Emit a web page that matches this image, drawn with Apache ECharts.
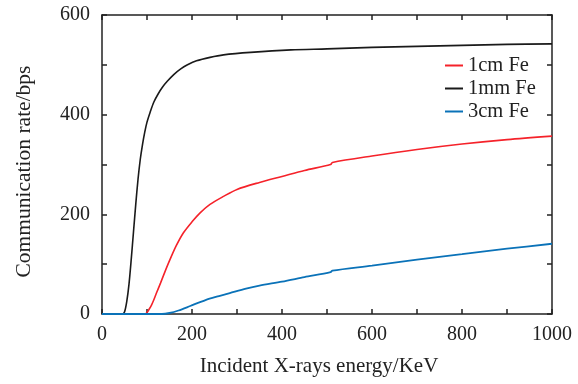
<!DOCTYPE html>
<html>
<head>
<meta charset="utf-8">
<script src="https://cdn.jsdelivr.net/npm/echarts@6/dist/echarts.min.js"></script>
<style>
  html, body { margin: 0; padding: 0; background: #fff; }
  #chart { width: 578px; height: 384px; }
</style>
</head>
<body>
<div id="chart"></div>
<script>
// values
const feThinX = [0, 45, 50, 55, 60, 65, 70, 75, 80, 85, 90, 95, 100, 107, 115, 125, 135, 145, 160, 175, 190, 210, 240, 270, 330, 420, 500, 600, 700, 800, 900, 1000]
const feThinY = [0, 0, 4, 25, 60, 110, 165, 220, 270, 310, 340, 365, 385, 405, 425, 442, 456, 467, 481, 492, 500, 508, 515, 520, 525, 530, 532, 535, 537, 539, 541, 542]

const fe1cmX = [0, 95, 100, 105, 110, 115, 121, 130, 140, 151, 165, 181, 200, 218, 240, 270, 300, 350, 400, 450, 508, 512, 600, 700, 800, 900, 1000]
const fe1cmY = [0, 0, 3, 10, 18, 28, 42, 62, 85, 109, 137, 163, 185, 203, 220, 236, 250, 264, 276, 288, 300, 304, 317, 330, 341, 350, 357]

const fe3cmX = [0, 133, 150, 170, 196, 230, 260, 284, 320, 350, 400, 450, 508, 512, 600, 700, 800, 900, 1000]
const fe3cmY = [0, 0, 2, 7, 16, 28, 36, 42, 51, 57, 65, 74, 84, 87, 97, 109, 120, 131, 141]

const seriesNames = ['1cm Fe', '1mm Fe', '3cm Fe']
const xLabels = [0, 200, 400, 600, 800, 1000]
const yLabels = [0, 200, 400, 600]

const pairs = (xs, ys) => xs.map((x, i) => [x, ys[i]])

const font = '"Liberation Serif", "DejaVu Serif", serif'
const ink = '#222'

var myChart = echarts.init(document.getElementById('chart'))

const line = { show: true, onZero: false, lineStyle: { color: ink, width: 1.5 } }
const tick = { show: true, inside: true, length: 5, lineStyle: { color: ink, width: 1.5 } }

const option = {
  animation: false,
  textStyle: { fontFamily: font },
  grid: {
    left: 102,
    right: 26,
    top: 15,
    bottom: 70,
  },
  legend: {
    data: seriesNames,
    orient: 'vertical',
    left: 440,
    top: 50,
    itemWidth: 18,
    itemHeight: 2,
    itemGap: 2,
    icon: 'rect',
    textStyle: { fontFamily: font, fontSize: 20.5, color: ink },
  },
  xAxis: [
    {
      type: 'value',
      min: 0,
      max: 1000,
      interval: 100,
      name: 'Incident X-rays energy/KeV',
      nameLocation: 'middle',
      nameGap: 42,
      nameTextStyle: { fontFamily: font, fontSize: 21, color: ink, padding: [0, 16, 0, 0] },
      axisLine: line,
      axisTick: tick,
      axisLabel: {
        fontFamily: font,
        fontSize: 20,
        color: ink,
        margin: 11,
        formatter: (v) => (xLabels.includes(v) ? String(v) : ''),
      },
      splitLine: { show: false },
    },
    {
      type: 'value',
      min: 0,
      max: 1000,
      interval: 100,
      position: 'top',
      axisLine: line,
      axisTick: tick,
      axisLabel: { show: false },
      splitLine: { show: false },
    },
  ],
  yAxis: [
    {
      type: 'value',
      min: 0,
      max: 600,
      interval: 100,
      name: 'Communication rate/bps',
      nameLocation: 'middle',
      nameGap: 67,
      nameTextStyle: { fontFamily: font, fontSize: 21.5, color: ink, padding: [0, 14, 0, 0] },
      axisLine: line,
      axisTick: tick,
      axisLabel: {
        fontFamily: font,
        fontSize: 20,
        color: ink,
        margin: 12,
        formatter: (v) => (yLabels.includes(v) ? String(v) : ''),
      },
      splitLine: { show: false },
    },
    {
      type: 'value',
      min: 0,
      max: 600,
      interval: 100,
      position: 'right',
      axisLine: line,
      axisTick: tick,
      axisLabel: { show: false },
      splitLine: { show: false },
    },
  ],
  series: [
    {
      name: '1cm Fe',
      type: 'line',
      data: pairs(fe1cmX, fe1cmY),
      smooth: 0.3,
      showSymbol: false,
      lineStyle: { color: '#f5222a', width: 1.6 },
      itemStyle: { color: '#f5222a' },
    },
    {
      name: '1mm Fe',
      type: 'line',
      data: pairs(feThinX, feThinY),
      smooth: 0.3,
      showSymbol: false,
      lineStyle: { color: '#1a1a1a', width: 1.6 },
      itemStyle: { color: '#1a1a1a' },
    },
    {
      name: '3cm Fe',
      type: 'line',
      data: pairs(fe3cmX, fe3cmY),
      smooth: 0.3,
      showSymbol: false,
      lineStyle: { color: '#0a72b8', width: 1.8 },
      itemStyle: { color: '#0a72b8' },
    },
  ],
}

myChart.setOption(option)
</script>
</body>
</html>
